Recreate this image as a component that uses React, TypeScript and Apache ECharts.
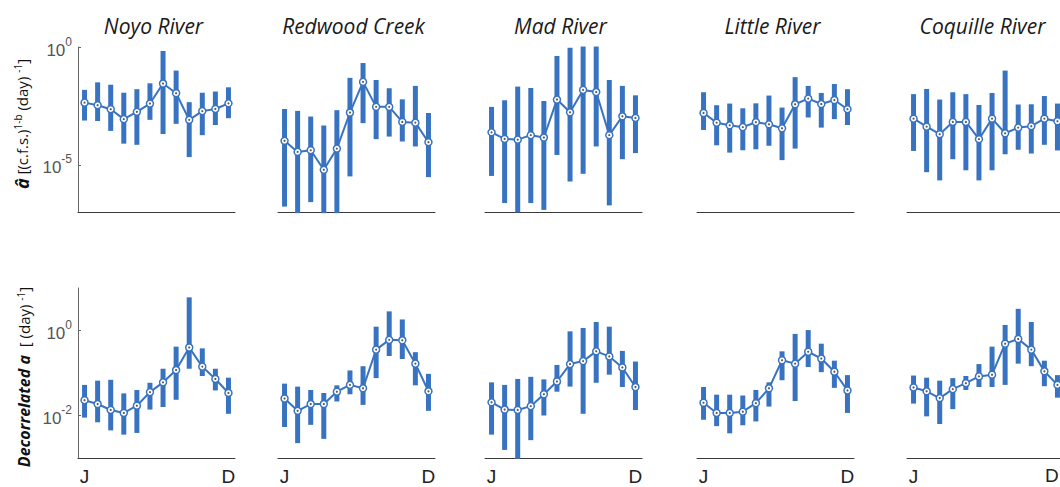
import React, { useEffect, useRef } from "react";
import * as echarts from "echarts";

// ---------------- data (log10 of the values) ----------------
const MONTHS = ["Jan", "Feb", "Mar", "Apr", "May", "Jun", "Jul", "Aug", "Sep", "Oct", "Nov", "Dec"];
const RIVERS = ["Noyo River", "Redwood Creek", "Mad River", "Little River", "Coquille River"];

// top row: a-hat, exponents (log10)
const NOYO_A_MED = [-2.36, -2.47, -2.64, -3.06, -2.75, -2.4, -1.55, -1.96, -3.09, -2.72, -2.63, -2.39];
const NOYO_A_LO = [-3.12, -3.14, -3.56, -4.1, -4.15, -3.09, -3.69, -3.26, -4.67, -3.74, -3.31, -3.02];
const NOYO_A_HI = [-1.82, -1.5, -1.6, -1.94, -1.79, -1.54, -0.17, -1.0, -2.34, -1.94, -1.89, -1.71];

const REDWOOD_A_MED = [-3.98, -4.45, -4.38, -5.21, -4.31, -2.78, -1.48, -2.54, -2.54, -3.18, -3.21, -4.04];
const REDWOOD_A_LO = [-6.77, -7.05, -6.58, -7.05, -7.05, -5.49, -3.23, -3.91, -3.8, -4.01, -4.22, -5.52];
const REDWOOD_A_HI = [-2.63, -2.71, -2.95, -3.33, -2.68, -1.31, -0.68, -1.4, -1.75, -2.22, -1.65, -2.8];

const MAD_A_MED = [-3.62, -3.9, -3.93, -3.74, -3.84, -2.23, -2.77, -1.82, -1.91, -3.74, -2.94, -3.01];
const MAD_A_LO = [-5.47, -6.62, -7.02, -6.62, -6.91, -4.58, -5.71, -5.38, -4.22, -6.72, -4.76, -4.5];
const MAD_A_HI = [-2.54, -2.26, -1.68, -1.74, -2.29, -0.38, -0.03, 0.02, 0.02, -1.4, -1.65, -2.05];

const LITTLE_A_MED = [-2.8, -3.21, -3.32, -3.4, -3.19, -3.28, -3.45, -2.43, -2.19, -2.42, -2.25, -2.64];
const LITTLE_A_LO = [-3.52, -4.17, -4.48, -4.38, -4.34, -4.19, -4.8, -4.31, -2.99, -3.42, -3.06, -3.31];
const LITTLE_A_HI = [-1.92, -2.47, -2.4, -2.6, -2.39, -2.06, -2.57, -1.28, -1.65, -1.95, -1.57, -1.79];

const COQUILLE_A_MED = [-3.04, -3.38, -3.7, -3.18, -3.18, -3.91, -3.04, -3.66, -3.42, -3.36, -3.04, -3.15];
const COQUILLE_A_LO = [-4.41, -5.31, -5.66, -4.76, -5.23, -5.66, -5.23, -4.55, -4.36, -4.52, -4.15, -4.39];
const COQUILLE_A_HI = [-2.0, -1.78, -2.23, -1.92, -2.0, -2.46, -1.95, -1.0, -2.44, -2.43, -2.08, -2.4];

// bottom row: decorrelated a, exponents (log10)
const NOYO_D_MED = [-1.64, -1.73, -1.87, -1.94, -1.77, -1.45, -1.22, -0.93, -0.4, -0.85, -1.14, -1.47];
const NOYO_D_LO = [-2.05, -2.16, -2.35, -2.45, -2.41, -1.86, -1.8, -1.63, -0.9, -1.07, -1.41, -1.96];
const NOYO_D_HI = [-1.28, -1.18, -1.16, -1.48, -1.4, -1.23, -0.9, -0.38, 0.78, -0.42, -0.9, -1.11];

const REDWOOD_D_MED = [-1.6, -1.89, -1.73, -1.73, -1.44, -1.28, -1.36, -0.45, -0.22, -0.23, -0.78, -1.43];
const REDWOOD_D_LO = [-2.27, -2.65, -2.22, -2.55, -1.67, -1.5, -1.75, -1.12, -0.6, -0.67, -1.29, -1.89];
const REDWOOD_D_HI = [-1.25, -1.32, -1.4, -1.47, -1.29, -0.94, -0.84, 0.09, 0.45, 0.26, -0.51, -1.02];

const MAD_D_MED = [-1.69, -1.86, -1.87, -1.78, -1.5, -1.2, -0.79, -0.72, -0.49, -0.61, -0.87, -1.33];
const MAD_D_LO = [-2.45, -2.81, -3.02, -2.58, -2.0, -1.44, -1.32, -1.96, -1.23, -1.04, -1.33, -1.87];
const MAD_D_HI = [-1.22, -1.28, -1.14, -1.09, -1.15, -0.81, -0.02, 0.06, 0.2, 0.09, -0.48, -0.73];

const LITTLE_D_MED = [-1.7, -1.94, -1.94, -1.91, -1.71, -1.36, -0.7, -0.78, -0.5, -0.66, -0.97, -1.41];
const LITTLE_D_LO = [-2.1, -2.25, -2.42, -2.23, -2.14, -1.79, -1.17, -1.66, -0.86, -0.98, -1.35, -1.94];
const LITTLE_D_HI = [-1.33, -1.51, -1.51, -1.53, -1.4, -1.22, -0.49, -0.08, 0.01, -0.31, -0.71, -1.05];

const COQUILLE_D_MED = [-1.34, -1.43, -1.59, -1.38, -1.24, -1.08, -1.04, -0.31, -0.2, -0.45, -0.96, -1.28];
const COQUILLE_D_LO = [-1.72, -2.02, -2.2, -1.85, -1.4, -1.33, -1.33, -1.28, -0.78, -0.84, -1.31, -1.58];
const COQUILLE_D_HI = [-1.06, -1.11, -1.18, -1.12, -1.07, -0.79, -0.38, 0.13, 0.51, 0.2, -0.71, -1.05];

const TOP_ROW = [
  [NOYO_A_MED, NOYO_A_LO, NOYO_A_HI],
  [REDWOOD_A_MED, REDWOOD_A_LO, REDWOOD_A_HI],
  [MAD_A_MED, MAD_A_LO, MAD_A_HI],
  [LITTLE_A_MED, LITTLE_A_LO, LITTLE_A_HI],
  [COQUILLE_A_MED, COQUILLE_A_LO, COQUILLE_A_HI],
];
const BOTTOM_ROW = [
  [NOYO_D_MED, NOYO_D_LO, NOYO_D_HI],
  [REDWOOD_D_MED, REDWOOD_D_LO, REDWOOD_D_HI],
  [MAD_D_MED, MAD_D_LO, MAD_D_HI],
  [LITTLE_D_MED, LITTLE_D_LO, LITTLE_D_HI],
  [COQUILLE_D_MED, COQUILLE_D_LO, COQUILLE_D_HI],
];

const TOP_Y_RANGE = [1e-7, 1];
const BOTTOM_Y_RANGE = [1e-3, 10];
const TOP_LABEL_EXPS = [0, -5];
const BOTTOM_LABEL_EXPS = [0, -2];

// ---------------- layout / style ----------------
const PANEL_LEFT = [78, 278, 485, 697, 907];
const PANEL_W = 157;
const ROWS = [
  { top: 47, height: 165 },
  { top: 288, height: 170 },
];
const BLUE = "#3873c1";
const FONT = "'Open Sans', 'Noto Sans', sans-serif";
const TICK_FONT = "'Liberation Sans', Arial, sans-serif";
const X_LABEL_MARGIN = 8;
const X_LABEL_LINE = 20;

function buildOption() {
  const grid: any[] = [];
  const xAxis: any[] = [];
  const yAxis: any[] = [];
  const series: any[] = [];
  const graphic: any[] = [];

  const rows = [TOP_ROW, BOTTOM_ROW];
  rows.forEach((rowData, r) => {
    const range = r === 0 ? TOP_Y_RANGE : BOTTOM_Y_RANGE;
    const labelExps = r === 0 ? TOP_LABEL_EXPS : BOTTOM_LABEL_EXPS;
    rowData.forEach((panel, c) => {
      const idx = grid.length;
      const isLastPanel = c === RIVERS.length - 1;
      grid.push({
        left: PANEL_LEFT[c],
        width: PANEL_W,
        top: ROWS[r].top,
        height: ROWS[r].height,
        containLabel: false,
        outerBoundsMode: "none",
      });
      xAxis.push({
        gridIndex: idx,
        type: "category",
        data: MONTHS,
        boundaryGap: true,
        axisLine: { show: true, lineStyle: { color: "#3a3a3a", width: 1 } },
        axisTick: { show: false },
        splitLine: { show: false },
        axisLabel:
          r === 1
            ? {
                show: true,
                // the right-most "D" runs off the page edge; it is drawn separately below
                interval: (i: number) => i === 0 || (i === MONTHS.length - 1 && !isLastPanel),
                formatter: (v: string) => v.charAt(0),
                fontSize: 19,
                lineHeight: X_LABEL_LINE,
                color: "#222",
                fontFamily: TICK_FONT,
                margin: X_LABEL_MARGIN,
                hideOverlap: false,
              }
            : { show: false },
      });
      yAxis.push({
        gridIndex: idx,
        type: "log",
        logBase: 10,
        min: range[0],
        max: range[1],
        show: c === 0,
        axisLine: { show: true, lineStyle: { color: "#666", width: 1 } },
        axisTick: {
          show: true,
          inside: true,
          length: 3,
          lineStyle: { color: "#666" },
          customValues: labelExps.map((e) => Math.pow(10, e)),
        },
        splitLine: { show: false },
        axisLabel: {
          show: true,
          margin: 6,
          formatter: (v: number) => {
            const e = Math.round(Math.log10(v));
            return labelExps.indexOf(e) >= 0 ? `{b|10}{s|${e}}` : "";
          },
          rich: {
            b: { fontSize: 17, color: "#555", fontFamily: TICK_FONT, padding: [6, 0, 0, 0] },
            s: { fontSize: 12, color: "#555", fontFamily: TICK_FONT, verticalAlign: "top" },
          },
        },
      });

      const [med, lo, hi] = panel;
      series.push({
        type: "custom",
        xAxisIndex: idx,
        yAxisIndex: idx,
        silent: true,
        z: 2,
        encode: { x: 0, y: [1, 2] },
        data: lo.map((l, i) => [i, Math.pow(10, l), Math.pow(10, hi[i])]),
        renderItem: (params: any, api: any) => {
          const p1 = api.coord([api.value(0), api.value(1)]);
          const p2 = api.coord([api.value(0), api.value(2)]);
          return {
            type: "line",
            shape: { x1: p1[0], y1: p1[1], x2: p2[0], y2: p2[1] },
            style: { stroke: BLUE, lineWidth: 5 },
          };
        },
      });
      const medData = med.map((m, i) => [i, Math.pow(10, m)]);
      series.push({
        type: "line",
        xAxisIndex: idx,
        yAxisIndex: idx,
        silent: true,
        z: 3,
        data: medData,
        symbol: "circle",
        symbolSize: 7,
        showAllSymbol: true,
        lineStyle: { color: BLUE, width: 2 },
        itemStyle: { color: "#fff", borderColor: BLUE, borderWidth: 1.5 },
      });
      series.push({
        type: "scatter",
        xAxisIndex: idx,
        yAxisIndex: idx,
        silent: true,
        z: 4,
        data: medData,
        symbolSize: 2.2,
        itemStyle: { color: "#333" },
      });

      if (r === 0) {
        graphic.push({
          type: "text",
          x: PANEL_LEFT[c] + PANEL_W / 2 - 3,
          y: 26,
          style: {
            text: RIVERS[c],
            fontSize: 21,
            fontStyle: "italic",
            fontFamily: FONT,
            fill: "#1a1a1a",
            align: "center",
            verticalAlign: "middle",
          },
        });
      }
      if (r === 1 && isLastPanel) {
        graphic.push({
          type: "text",
          left: 1045,
          top: ROWS[1].top + ROWS[1].height + X_LABEL_MARGIN,
          z: 100,
          style: {
            text: MONTHS[MONTHS.length - 1].charAt(0),
            fontSize: 19,
            fontFamily: TICK_FONT,
            fill: "#222",
          },
        });
      }
    });
  });

  graphic.push({
    type: "text",
    x: 22,
    y: 124,
    rotation: Math.PI / 2,
    style: {
      text: "{h|â}{n| [(c.f.s.)}{s|1-b}{n| (day) }{s|-1}{n|]}",
      align: "center",
      verticalAlign: "middle",
      rich: {
        h: { fontSize: 18, fontWeight: "bold", fontStyle: "italic", fontFamily: FONT, fill: "#111" },
        n: { fontSize: 15, fontFamily: FONT, fill: "#111" },
        s: { fontSize: 10, fontFamily: FONT, fill: "#111", verticalAlign: "top" },
      },
    },
  });
  graphic.push({
    type: "text",
    x: 24,
    y: 377,
    rotation: Math.PI / 2,
    style: {
      text: "{h|Decorrelated a}{n|  [ (day) }{s|-1}{n|]}",
      align: "center",
      verticalAlign: "middle",
      rich: {
        h: { fontSize: 16, fontWeight: "bold", fontStyle: "italic", fontFamily: FONT, fill: "#111" },
        n: { fontSize: 15, fontFamily: FONT, fill: "#111" },
        s: { fontSize: 10, fontFamily: FONT, fill: "#111", verticalAlign: "top" },
      },
    },
  });

  return {
    animation: false,
    backgroundColor: "#ffffff",
    grid,
    xAxis,
    yAxis,
    series,
    graphic,
  };
}

export default function App() {
  const ref = useRef<HTMLDivElement>(null);
  useEffect(() => {
    if (!ref.current) return;
    const chart = echarts.init(ref.current, undefined, { renderer: "svg" });
    chart.setOption(buildOption() as any);
    return () => chart.dispose();
  }, []);
  return (
    <div
      ref={ref}
      style={{ position: "absolute", left: 0, top: 0, width: 1060, height: 487, overflow: "hidden" }}
    />
  );
}
